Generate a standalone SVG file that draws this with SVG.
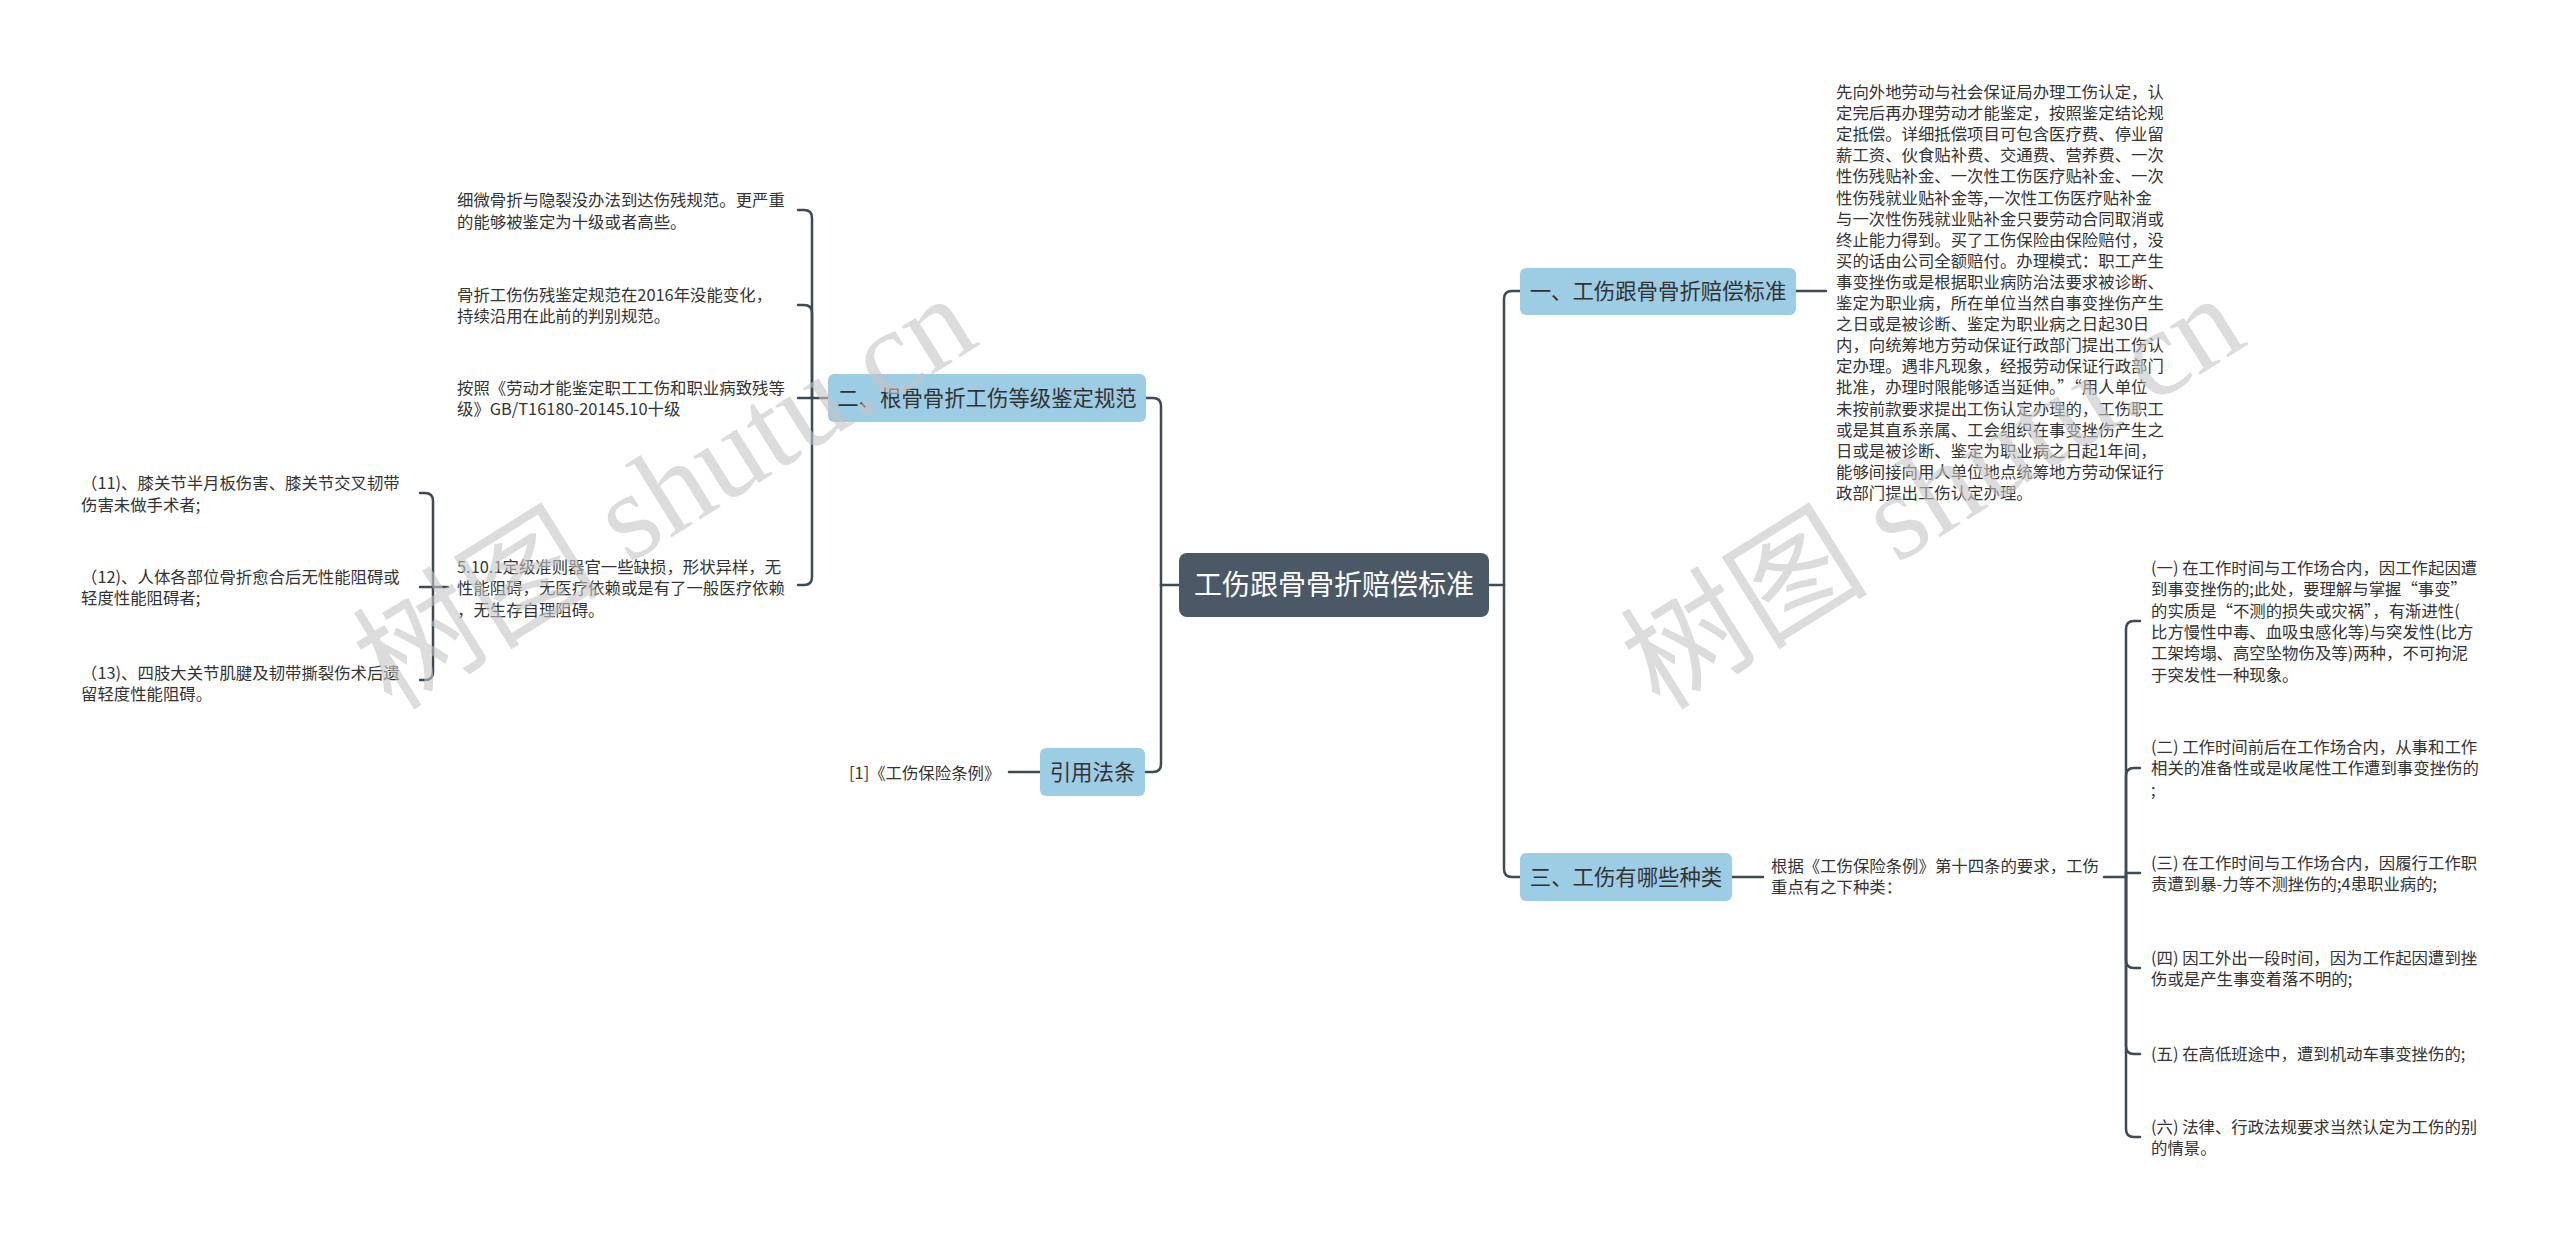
<svg xmlns="http://www.w3.org/2000/svg" width="2560" height="1236" viewBox="0 0 2560 1236">
<style>
text{font-family:"Noto Sans CJK SC","Noto Sans",sans-serif;}
.t{font-size:16.4px;fill:#333;}
.b{font-size:21.4px;fill:#333;text-anchor:middle;}
.r{font-size:28px;fill:#fff;text-anchor:middle;}
.box{fill:#9dcce5;}
.root{fill:#4b5967;}
.c{fill:none;stroke:#3e4a56;stroke-width:2.5;stroke-linecap:round;}
.wm{font-family:"Liberation Serif","Noto Sans CJK SC",serif;font-size:124px;fill:#c4c4c4;fill-opacity:0.6;}
</style>
<rect width="2560" height="1236" fill="#fff"/>
<g id="connectors">
<path class="c" d="M1489,585 H1504"/>
<path class="c" d="M1504,585 V299 Q1504,291 1512,291 H1520"/>
<path class="c" d="M1504,585 V869 Q1504,877 1512,877 H1520"/>
<path class="c" d="M1179,585 H1161"/>
<path class="c" d="M1161,585 V406 Q1161,398 1153,398 H1146"/>
<path class="c" d="M1161,585 V764 Q1161,772 1153,772 H1145"/>
<path class="c" d="M1796,291 H1826"/>
<path class="c" d="M1732,877 H1763"/>
<path class="c" d="M2104,877 H2126"/>
<path class="c" d="M2126,877 V629 Q2126,621 2134,621 H2140"/>
<path class="c" d="M2126,877 V776 Q2126,768 2134,768 H2140"/>
<path class="c" d="M2126,877 V873 H2140"/>
<path class="c" d="M2126,877 V960 Q2126,968 2134,968 H2140"/>
<path class="c" d="M2126,877 V1046 Q2126,1054 2134,1054 H2140"/>
<path class="c" d="M2126,877 V1129 Q2126,1137 2134,1137 H2140"/>
<path class="c" d="M828,398 H812"/>
<path class="c" d="M812,398 V218 Q812,210 804,210 H798"/>
<path class="c" d="M812,398 V313 Q812,305 804,305 H798"/>
<path class="c" d="M812,398 H798"/>
<path class="c" d="M812,398 V577 Q812,585 804,585 H798"/>
<path class="c" d="M1040,772 H1009"/>
<path class="c" d="M448,587 H433"/>
<path class="c" d="M433,587 V501 Q433,493 425,493 H420"/>
<path class="c" d="M433,587 H420"/>
<path class="c" d="M433,587 V672 Q433,680 425,680 H420"/>
</g>
<g id="root"><rect class="root" x="1179" y="553" width="310" height="64" rx="8"/><text class="r" x="1334" y="595">工伤跟骨骨折赔偿标准</text></g>
<g id="b1"><rect class="box" x="1520" y="268" width="276" height="47" rx="6"/><text class="b" x="1658" y="299">一、工伤跟骨骨折赔偿标准</text></g>
<g id="b2"><rect class="box" x="828" y="374" width="318" height="48" rx="6"/><text class="b" x="987" y="406">二、根骨骨折工伤等级鉴定规范</text></g>
<g id="b3"><rect class="box" x="1520" y="853" width="212" height="48" rx="6"/><text class="b" x="1626" y="885">三、工伤有哪些种类</text></g>
<g id="b4"><rect class="box" x="1040" y="748" width="105" height="48" rx="6"/><text class="b" x="1092.5" y="780">引用法条</text></g>
<g id="n1"><text class="t" x="1836" y="98"><tspan x="1836">先向外地劳动与社会保证局办理工伤认定，认</tspan><tspan x="1836" dy="21.1">定完后再办理劳动才能鉴定，按照鉴定结论规</tspan><tspan x="1836" dy="21.1">定抵偿。详细抵偿项目可包含医疗费、停业留</tspan><tspan x="1836" dy="21.1">薪工资、伙食贴补费、交通费、营养费、一次</tspan><tspan x="1836" dy="21.1">性伤残贴补金、一次性工伤医疗贴补金、一次</tspan><tspan x="1836" dy="21.1">性伤残就业贴补金等,一次性工伤医疗贴补金</tspan><tspan x="1836" dy="21.1">与一次性伤残就业贴补金只要劳动合同取消或</tspan><tspan x="1836" dy="21.1">终止能力得到。买了工伤保险由保险赔付，没</tspan><tspan x="1836" dy="21.1">买的话由公司全额赔付。办理模式：职工产生</tspan><tspan x="1836" dy="21.1">事变挫伤或是根据职业病防治法要求被诊断、</tspan><tspan x="1836" dy="21.1">鉴定为职业病，所在单位当然自事变挫伤产生</tspan><tspan x="1836" dy="21.1">之日或是被诊断、鉴定为职业病之日起30日</tspan><tspan x="1836" dy="21.1">内，向统筹地方劳动保证行政部门提出工伤认</tspan><tspan x="1836" dy="21.1">定办理。遇非凡现象，经报劳动保证行政部门</tspan><tspan x="1836" dy="21.1">批准，办理时限能够适当延伸。”“用人单位</tspan><tspan x="1836" dy="21.1">未按前款要求提出工伤认定办理的，工伤职工</tspan><tspan x="1836" dy="21.1">或是其直系亲属、工会组织在事变挫伤产生之</tspan><tspan x="1836" dy="21.1">日或是被诊断、鉴定为职业病之日起1年间，</tspan><tspan x="1836" dy="21.1">能够间接向用人单位地点统筹地方劳动保证行</tspan><tspan x="1836" dy="21.1">政部门提出工伤认定办理。</tspan></text></g>
<g id="n3"><text class="t" x="1771" y="872"><tspan x="1771">根据《工伤保险条例》第十四条的要求，工伤</tspan><tspan x="1771" dy="21.2">重点有之下种类：</tspan></text></g>
<g id="n3a"><text class="t" x="2151" y="574"><tspan x="2151">(一) 在工作时间与工作场合内，因工作起因遭</tspan><tspan x="2151" dy="21.3">到事变挫伤的;此处，要理解与掌握“事变”</tspan><tspan x="2151" dy="21.3">的实质是“不测的损失或灾祸”，有渐进性(</tspan><tspan x="2151" dy="21.3">比方慢性中毒、血吸虫感化等)与突发性(比方</tspan><tspan x="2151" dy="21.3">工架垮塌、高空坠物伤及等)两种，不可拘泥</tspan><tspan x="2151" dy="21.3">于突发性一种现象。</tspan></text></g>
<g id="n3b"><text class="t" x="2151" y="753"><tspan x="2151">(二) 工作时间前后在工作场合内，从事和工作</tspan><tspan x="2151" dy="21.3">相关的准备性或是收尾性工作遭到事变挫伤的</tspan><tspan x="2151" dy="21.3">;</tspan></text></g>
<g id="n3c"><text class="t" x="2151" y="869"><tspan x="2151">(三) 在工作时间与工作场合内，因履行工作职</tspan><tspan x="2151" dy="21.2">责遭到暴-力等不测挫伤的;4患职业病的;</tspan></text></g>
<g id="n3d"><text class="t" x="2151" y="964"><tspan x="2151">(四) 因工外出一段时间，因为工作起因遭到挫</tspan><tspan x="2151" dy="21.2">伤或是产生事变着落不明的;</tspan></text></g>
<g id="n3e"><text class="t" x="2151" y="1060">(五) 在高低班途中，遭到机动车事变挫伤的;</text></g>
<g id="n3f"><text class="t" x="2151" y="1133"><tspan x="2151">(六) 法律、行政法规要求当然认定为工伤的别</tspan><tspan x="2151" dy="21.2">的情景。</tspan></text></g>
<g id="n2a"><text class="t" x="457" y="206"><tspan x="457">细微骨折与隐裂没办法到达伤残规范。更严重</tspan><tspan x="457" dy="21.5">的能够被鉴定为十级或者高些。</tspan></text></g>
<g id="n2b"><text class="t" x="457" y="301"><tspan x="457">骨折工伤伤残鉴定规范在2016年没能变化，</tspan><tspan x="457" dy="21">持续沿用在此前的判别规范。</tspan></text></g>
<g id="n2c"><text class="t" x="457" y="394"><tspan x="457">按照《劳动才能鉴定职工工伤和职业病致残等</tspan><tspan x="457" dy="21">级》GB/T16180-20145.10十级</tspan></text></g>
<g id="n2d"><text class="t" x="457" y="573"><tspan x="457">5.10.1定级准则器官一些缺损，形状异样，无</tspan><tspan x="457" dy="21.3">性能阻碍，无医疗依赖或是有了一般医疗依赖</tspan><tspan x="457" dy="21.3">，无生存自理阻碍。</tspan></text></g>
<g id="n2d1"><text class="t" x="81" y="489"><tspan x="81">（11)、膝关节半月板伤害、膝关节交叉韧带</tspan><tspan x="81" dy="21.5">伤害未做手术者;</tspan></text></g>
<g id="n2d2"><text class="t" x="81" y="583"><tspan x="81">（12)、人体各部位骨折愈合后无性能阻碍或</tspan><tspan x="81" dy="21">轻度性能阻碍者;</tspan></text></g>
<g id="n2d3"><text class="t" x="81" y="679"><tspan x="81">（13)、四肢大关节肌腱及韧带撕裂伤术后遗</tspan><tspan x="81" dy="21">留轻度性能阻碍。</tspan></text></g>
<g id="n4a"><text class="t" x="849" y="779">[1]《工伤保险条例》</text></g>
<g id="watermark">
<text class="wm" transform="translate(392,712) rotate(-32)">树图 shutu.cn</text>
<text class="wm" transform="translate(1660,712) rotate(-32)">树图 shutu.cn</text>
</g>
</svg>
